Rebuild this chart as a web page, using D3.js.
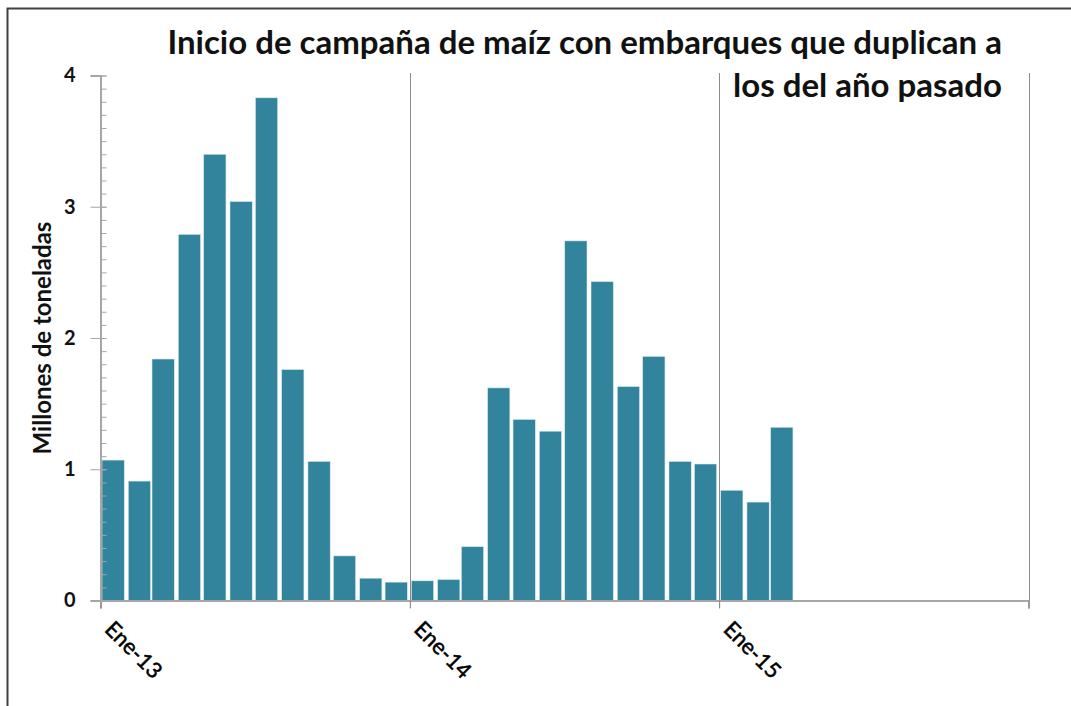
<!DOCTYPE html>
<html>
<head>
<meta charset="utf-8">
<script src="https://cdn.jsdelivr.net/npm/d3@7"></script>
<style>
  body { margin: 0; background: #fff; }
  svg { font-family: Lato, "Open Sans", sans-serif; }
</style>
</head>
<body>
<div id="chart"></div>
<script>
// monthly maize shipments, millions of tonnes (Jan-13 .. Mar-15)
var months = d3.range(27).map(function(i){ return new Date(2013, i, 1); });
var shipments = [1.07, 0.91, 1.84, 2.79, 3.40, 3.04, 3.83, 1.76, 1.06, 0.34, 0.17, 0.14,
                 0.15, 0.16, 0.41, 1.62, 1.38, 1.29, 2.74, 2.43, 1.63, 1.86, 1.06, 1.04,
                 0.84, 0.75, 1.32];
var yearTicks = [new Date(2013,0,1), new Date(2014,0,1), new Date(2015,0,1), new Date(2016,0,1)];
var yearLabels = ['Ene-13', 'Ene-14', 'Ene-15'];
var titleLines = ['Inicio de campaña de maíz con embarques que duplican a', 'los del año pasado'];
var yTitle = 'Millones de toneladas';

var W = 1071, H = 706;
var x0 = 100.5, x1 = 1028.5, yBase = 600.5, yTop = 75.5;
var barColor = '#31849b';

var svg = d3.select('#chart').append('svg')
  .attr('width', W)
  .attr('height', H);

// outer frame (only left and top visible)
svg.append('rect')
  .attr('x', 7.5).attr('y', 8.5)
  .attr('width', W + 20).attr('height', H + 20)
  .attr('fill', '#fff')
  .attr('stroke', '#404040')
  .attr('stroke-width', 2);

var xScale = d3.scaleTime()
  .domain([new Date(2013,0,1), new Date(2016,0,1)])
  .range([x0, x1]);

var yScale = d3.scaleLinear()
  .domain([0, 4])
  .range([yBase, yTop]);

// year separators
svg.append('g').selectAll('line')
  .data(yearTicks.slice(1))
  .enter().append('line')
    .attr('x1', function(d){ return Math.round(xScale(d)) + 0.5; })
    .attr('x2', function(d){ return Math.round(xScale(d)) + 0.5; })
    .attr('y1', 73)
    .attr('y2', 608)
    .attr('stroke', '#8c8c8c')
    .attr('stroke-width', 1);

// bars
var step = xScale(new Date(2013,1,1)) - xScale(new Date(2013,0,1));
svg.append('g').selectAll('rect')
  .data(shipments)
  .enter().append('rect')
    .attr('x', function(d,i){ return xScale(months[i]) + 1.5; })
    .attr('width', step - 4)
    .attr('y', function(d){ return yScale(d); })
    .attr('height', function(d){ return yBase - yScale(d); })
    .attr('fill', barColor)
    .attr('stroke', '#d9eaf0')
    .attr('stroke-width', 0.6);

// x axis
var xAxis = svg.append('g')
  .attr('transform', 'translate(0,' + yBase + ')')
  .call(d3.axisBottom(xScale).tickValues(yearTicks).tickSize(8).tickFormat(''));
xAxis.select('.domain').attr('stroke', '#a6a6a6').attr('stroke-width', 2);
xAxis.selectAll('.tick line').attr('stroke', '#8c8c8c');

svg.append('g').selectAll('text')
  .data(yearLabels)
  .enter().append('text')
    .attr('transform', function(d,i){
      return 'translate(' + (xScale(yearTicks[i]) + 3) + ',' + (yBase + 30) + ') rotate(45)';
    })
    .attr('font-size', 22)
    .attr('font-weight', 'normal')
    .attr('fill', '#000')
    .attr('stroke', '#000')
    .attr('stroke-width', 0.5)
    .text(function(d){ return d; });

// y axis with minor ticks
var minor = svg.append('g')
  .attr('transform', 'translate(' + x0 + ',0)')
  .call(d3.axisRight(yScale).ticks(40).tickSize(6).tickFormat(''));
minor.select('.domain').remove();
minor.selectAll('.tick line').attr('stroke', '#a6a6a6');

var yAxis = svg.append('g')
  .attr('transform', 'translate(' + x0 + ',0)')
  .call(d3.axisLeft(yScale).ticks(4).tickSize(10).tickPadding(15).tickFormat(d3.format('d')));
yAxis.select('.domain').attr('stroke', '#a6a6a6').attr('stroke-width', 2);
yAxis.selectAll('.tick line')
  .attr('stroke', '#a6a6a6')
  .attr('x2', -10).attr('x1', 6);
yAxis.selectAll('.tick text')
  .attr('font-family', 'Lato, sans-serif')
  .attr('font-size', 20)
  .attr('font-weight', 'bold')
  .attr('fill', '#111');

svg.append('text')
  .attr('transform', 'translate(51,338) rotate(-90)')
  .attr('text-anchor', 'middle')
  .attr('font-size', 24)
  .attr('font-weight', 'bold')
  .attr('fill', '#111')
  .text(yTitle);

// title, right aligned
svg.append('g').selectAll('text')
  .data(titleLines)
  .enter().append('text')
    .attr('x', 1002)
    .attr('y', function(d,i){ return 54 + i * 43; })
    .attr('text-anchor', 'end')
    .attr('font-size', 33)
    .attr('font-weight', 'bold')
    .attr('fill', '#111')
    .text(function(d){ return d; });
</script>
</body>
</html>
